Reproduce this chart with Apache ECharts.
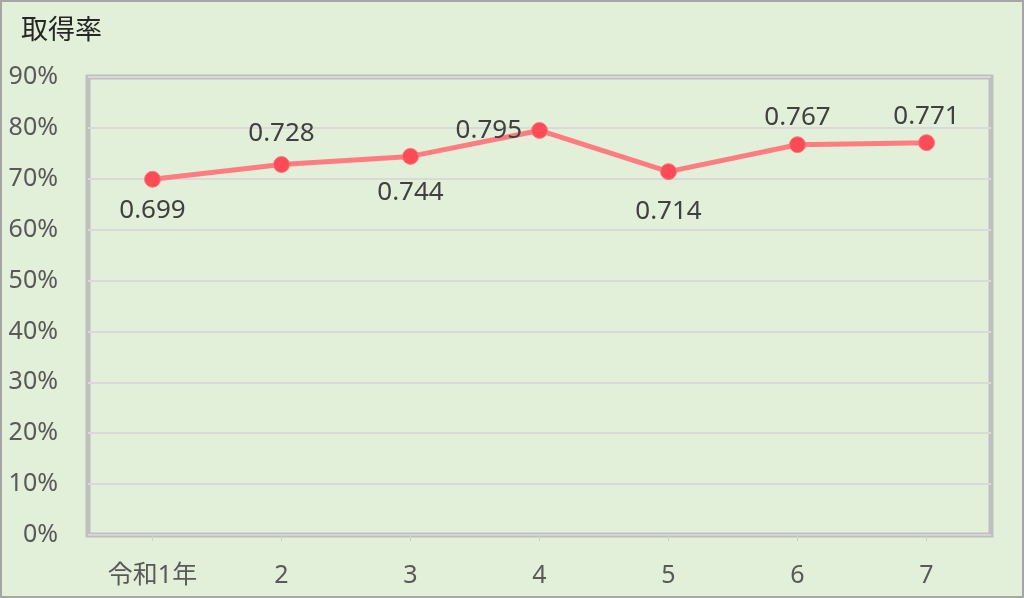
<!DOCTYPE html>
<html>
<head>
<meta charset="utf-8">
<script src="https://cdn.jsdelivr.net/npm/echarts@6/dist/echarts.min.js"></script>
<style>
  html, body { margin: 0; padding: 0; background: #e2efd9; }
  #chart { width: 1024px; height: 598px; }
</style>
</head>
<body>
<div id="chart"></div>
<script>
const categories = ["令和1年", "2", "3", "4", "5", "6", "7"];
const rates = [0.699, 0.728, 0.744, 0.795, 0.714, 0.767, 0.771];
const labelSide = ["bottom", "top", "bottom", "left", "bottom", "top", "top"];
const labelGap = [10, 9, 15, 9, 18, 6, 5];

const chart = echarts.init(document.getElementById("chart"));
chart.setOption({
  backgroundColor: "#e2efd9",
  textStyle: { fontFamily: "Noto Sans, Noto Sans CJK JP, sans-serif" },
  graphic: [
    {
      type: "rect",
      shape: { x: 1, y: 1, width: 1022, height: 596 },
      style: { fill: "none", stroke: "#a6a6a6", lineWidth: 2 },
      silent: true,
    },
    {
      type: "text",
      left: 21,
      top: 15,
      style: { text: "取得率", fontSize: 27, fill: "#262626", fontFamily: "Noto Sans CJK JP" },
    },
  ],
  grid: {
    left: 88,
    right: 33,
    top: 77,
    bottom: 63,
    show: true,
    borderColor: "#bfbfbf",
    borderWidth: 5,
    backgroundColor: "transparent",
  },
  xAxis: {
    type: "category",
    data: categories,
    boundaryGap: true,
    axisLine: { show: true, lineStyle: { color: "#d0d0d0", width: 1 } },
    axisTick: { show: true, alignWithLabel: true, length: 6, lineStyle: { color: "#d0d0d0" } },
    axisLabel: { color: "#595959", fontSize: 25, margin: 28, fontFamily: "Noto Sans, Noto Sans CJK JP" },
  },
  yAxis: {
    type: "value",
    min: 0,
    max: 0.9,
    interval: 0.1,
    axisLine: { show: false },
    axisTick: { show: false },
    splitLine: { lineStyle: { color: "#d9d9d9", width: 2 } },
    axisLabel: {
      color: "#595959",
      fontSize: 25,
      margin: 30,
      formatter: (v) => Math.round(v * 100) + "%",
    },
  },
  series: [
    {
      type: "line",
      data: rates.map((v, i) => ({
        value: v,
        label: { position: labelSide[i], distance: labelGap[i] },
      })),
      symbol: "circle",
      symbolSize: 16,
      lineStyle: { color: "#ff7c80", width: 5 },
      itemStyle: { color: "#ff4b55", borderColor: "#ff7c80", borderWidth: 1 },
      label: {
        show: true,
        color: "#404040",
        fontSize: 26,
        formatter: (p) => p.value.toFixed(3),
      },
      animation: false,
    },
  ],
  animation: false,
});
</script>
</body>
</html>
